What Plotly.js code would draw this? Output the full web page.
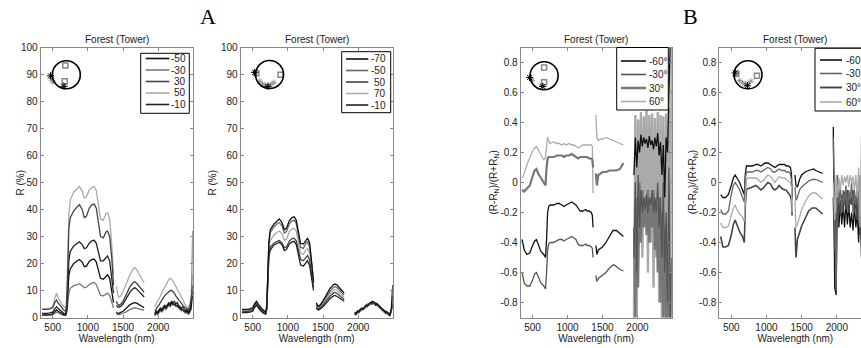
<!DOCTYPE html>
<html><head><meta charset="utf-8">
<script src="https://cdn.plot.ly/plotly-3.0.1.min.js"></script>
<style>html,body{margin:0;padding:0;overflow:hidden;background:#fff;width:861px;height:348px}#plot{width:880px;height:348px}</style>
</head><body><div id="plot"></div><script>
// ---------- wavelength grids (nm) ----------
const WL_VNIR = [350,380,420,460,500,530,555,580,620,660,685,700,715,730,750,800,850,880,920,950,980,1020,1060,1090,1120,1150,1180,1220,1260,1280,1310,1340,1355,1365];
const WL_SWIR1 = [1405,1420,1440,1470,1500,1550,1600,1650,1670,1700,1750,1800];
const WL_SWIR2 = [1950,1970,1990,2010,2030,2050,2070,2090,2110,2130,2150,2170,2190,2210,2230,2250,2270,2290,2310,2330,2350,2370,2390,2410,2430,2450,2470,2490];
const X_TICKS = [500,1000,1500,2000];

// ---------- Panel A-left: reflectance R (%) ----------
const A1_LABELS = ['-50','-30','30','50','-10'];
const A1_50_V = [3.2,3.1,3.2,3.4,4.0,7.0,9.0,7.2,5.2,4.0,3.5,7,22,38,43.5,46.5,47.8,48.5,46.8,44.2,44.8,47.2,48.2,48.5,47.0,41.0,36.5,36.0,38.5,38.8,36.5,27,20,16];
const A1_30_V = [3.0,2.9,3.0,3.2,3.6,5.5,6.5,5.3,3.8,2.7,2.3,5,18,33,37,39.5,41,41.8,40,37,37.5,40.5,41.8,42,40.5,35,30,29.5,31.8,32,30,22,15,12];
const A1_M10_V = [1.5,1.4,1.5,1.7,2.0,3.2,4.0,3.3,2.3,1.5,1.3,3,12,21,24.5,26.5,27.5,28,27,25.5,25.8,27.5,28.5,28.6,27.5,24,21,21,22.5,22.8,21,15,11,9];
const A1_M50_V = [1.0,0.9,1.0,1.1,1.3,2.2,2.8,2.3,1.5,1.0,0.9,2.5,9,15.5,18,20,21,21.5,20.5,18.8,19,20.8,21.5,21.6,20.5,17,14.5,14.2,15.5,15.8,14.5,10,7,5.5];
const A1_M30_V = [0.8,0.7,0.8,0.9,1.0,1.6,2.0,1.7,1.1,0.8,0.7,2,5.5,9,10.8,11.8,12.2,12.5,11.8,11,11.2,12.2,12.8,13,12.2,10,8.2,8,8.8,9,8.2,5.5,4.5,3.5];
const A1_50_S1 = [11.5,9,7.5,8,9.5,12.5,16,18.2,18.4,17.5,15,12.8];
const A1_30_S1 = [6,5,4.5,5,6,8.5,11.5,13,13.2,12.5,11,9.3];
const A1_M10_S1 = [4.5,4,3.8,4.2,5,7,9.5,10.8,11,10.4,9,7.6];
const A1_M50_S1 = [2,1.6,1.5,1.8,2.3,3.5,4.8,5.4,5.5,5.2,4.4,3.6];
const A1_M30_S1 = [1.3,1.1,1,1.2,1.5,2.2,3,3.5,3.6,3.4,3,2.6];
const A1_50_S2 = [4,5,6,7,8,9,10.5,11.5,12.5,13.5,14,14.5,14.2,13.5,12.5,11,10,9,8,7,6,5,4.5,4,3.5,5,8,16];
const A1_30_S2 = [2.5,3,4,4.5,5.5,6.5,7.5,8,8.5,9,9.5,10,10,9.5,9,8,7,6.5,6,5,4.5,4,3.5,3,2.8,4,7,12];
const A1_M10_S2 = [1.5,2.5,2,3,3.5,3,4,4.5,4,5,5.5,5,6,5.5,6,5,5.5,4.5,4,3.5,4,3,2.5,3,2,3,6,10];
const A1_M50_S2 = [1,2,1.5,2.5,3,2.5,3.5,4,3.5,4.5,5,4.5,5.5,5,5,4.5,4.5,4,3.5,3,3,2.5,2,2.5,1.5,2.5,4,8];
const A1_M30_S2 = [0.5,1.5,1,2,2.5,2,3,3.5,3,4,4.5,4,5,4.5,4.8,4,4,3.5,3,2.5,2.5,2,1.5,2,1,2,3,32];

// ---------- Panel A-right: reflectance R (%) ----------
const A2_LABELS = ['-70','-50','50','70','-10'];
const A2_M70_V = [3.0,2.9,3.0,3.2,3.6,5.2,6.0,5.0,3.5,2.5,2.0,4,15,28,32.5,34.5,35.8,36.5,35,32.5,33,35.8,37,37.3,36,31,27.5,27.2,29,29.4,27.5,21,16,13];
const A2_M50_V = [2.8,2.7,2.8,3.0,3.4,5.0,5.8,4.8,3.3,2.3,1.9,3.8,14,27,31.5,33.5,34.8,35.2,33.8,31.2,31.8,34.6,35.8,36,34.8,29.8,26,25.6,27.6,28,26,20,15,12.5];
const A2_70_V = [2.4,2.3,2.4,2.6,3.0,4.5,5.3,4.3,2.9,2.0,1.6,3.4,12.5,25,28.5,30.5,31.6,32,30.8,28.6,29,31.7,32.8,33,32,27.4,23.8,23.4,25.2,25.5,23.8,18,14,11.5];
const A2_50_V = [2.2,2.1,2.2,2.4,2.7,4.2,5.0,4.0,2.6,1.8,1.5,3.2,11.5,23,26,27.5,28.2,28.5,27.5,25.8,26.2,28.2,29.2,29.4,28.4,24.5,21.5,21,22.6,23,21.2,16,13,11];
const A2_M10_V = [1.8,1.7,1.8,2.0,2.3,3.8,4.6,3.6,2.3,1.5,1.2,3,11,22.5,25,26.8,27.5,27.8,26.8,24.8,25.2,27.2,28,28.2,27,23,19.5,19,20.6,21,19.2,14.5,12,10];
const A2_M70_S1 = [5.5,4.5,4.2,5,6.2,8.5,10.8,12.2,12.4,12,10.5,9];
const A2_M50_S1 = [5,4.2,4,4.6,5.8,7.8,9.8,11.2,11.4,11,9.8,8.3];
const A2_70_S1 = [4.5,3.8,3.5,4.1,5.1,7,8.9,10.1,10.3,9.9,8.8,7.5];
const A2_50_S1 = [4,3.4,3.2,3.7,4.6,6.3,8,9.1,9.3,8.9,7.9,6.7];
const A2_M10_S1 = [3.5,3,2.8,3.3,4,5.5,7,8,8.2,7.8,7,6];
const A2_M70_S2 = [2,1.5,2.5,2,3,3.5,3,4,4.5,4.5,5,5.5,5.5,6,5.5,5,5,4.5,4,3.5,3,2.5,2,2,1.5,1,3,12];
const A2_M50_S2 = [1.5,2,1.5,2.5,2.5,3,3.5,3.5,4,5,4.5,5,6,5.5,5,5.5,4.5,4,4,3,3,2,2.5,1.5,1,1.5,2,8];
const A2_70_S2 = [1,1.5,2,2,3,2.5,3.5,4,4,4.5,5,5,5.5,5.5,5.5,4.5,4.5,4,3.5,3.5,2.5,2.5,2,2,1.5,1,2,6];
const A2_50_S2 = [1.5,1,2,2.5,2.5,3,3,4,4.5,4,5,5.5,5,6,5,5,4.5,4.5,3.5,3,3,2,2,1.5,1,1.5,2.5,5];
const A2_M10_S2 = [1,1.5,1.5,2,3,3,3.5,3.5,4,4.5,4.5,5,5.5,5,5.5,4.5,5,4,4,3,2.5,2.5,1.5,2,1.5,0.5,3,4];

// ---------- Panel B-left: (R-RN)/(R+RN) ----------
const B_LABELS = ['-60°','-30°','30°','60°'];
const B1_M60_V = [-0.38,-0.45,-0.48,-0.47,-0.42,-0.39,-0.38,-0.41,-0.46,-0.48,-0.5,-0.38,-0.2,-0.16,-0.15,-0.15,-0.14,-0.14,-0.15,-0.16,-0.15,-0.14,-0.13,-0.14,-0.15,-0.17,-0.19,-0.19,-0.18,-0.19,-0.19,-0.2,-0.22,-0.3];
const B1_M30_V = [-0.6,-0.67,-0.69,-0.69,-0.65,-0.61,-0.6,-0.63,-0.67,-0.69,-0.71,-0.6,-0.45,-0.41,-0.40,-0.40,-0.39,-0.38,-0.38,-0.39,-0.38,-0.37,-0.36,-0.37,-0.38,-0.41,-0.42,-0.42,-0.41,-0.42,-0.42,-0.43,-0.44,-0.5];
const B1_30_V = [-0.05,-0.06,-0.04,-0.02,0.04,0.08,0.09,0.06,0.03,0.0,-0.02,0.10,0.16,0.17,0.17,0.17,0.18,0.18,0.18,0.17,0.18,0.18,0.19,0.18,0.17,0.16,0.17,0.17,0.17,0.17,0.16,0.16,0.15,0.1];
const B1_60_V = [0.03,0.06,0.12,0.17,0.21,0.23,0.24,0.22,0.18,0.15,0.17,0.27,0.30,0.28,0.26,0.27,0.26,0.26,0.25,0.26,0.25,0.26,0.25,0.25,0.24,0.23,0.24,0.25,0.25,0.25,0.25,0.25,0.24,-0.07];
const B1_M60_S1 = [-0.42,-0.48,-0.45,-0.44,-0.43,-0.40,-0.36,-0.32,-0.32,-0.32,-0.34,-0.36];
const B1_M30_S1 = [-0.62,-0.66,-0.64,-0.63,-0.62,-0.6,-0.57,-0.55,-0.55,-0.56,-0.58,-0.59];
const B1_30_S1 = [0.06,-0.02,0.05,0.06,0.07,0.07,0.08,0.08,0.08,0.08,0.09,0.13];
const B1_60_S1 = [0.45,0.3,0.28,0.29,0.29,0.30,0.29,0.28,0.28,0.27,0.26,0.25];
const B1_M60_S2 = [0.05,0.3,0.1,0.28,0.2,0.32,0.24,0.3,0.26,0.29,0.23,0.31,0.25,0.28,0.22,0.3,0.24,0.33,0.18,0.27,0.05,0.25,-0.1,0.3,0.2,0.6,0.95,0.95];
const B1_M30_S2 = [-0.5,0.0,-0.6,0.05,-0.3,-0.05,-0.2,-0.1,-0.18,-0.08,-0.2,-0.1,-0.15,-0.05,-0.2,-0.1,-0.2,0.0,-0.3,-0.1,-0.5,0.0,-0.6,-0.2,-0.8,0.1,-0.9,-0.5];
const B1_30_S2 = [-0.3,-0.9,-0.1,-0.7,0.0,-0.4,-0.05,-0.3,-0.1,-0.35,-0.05,-0.4,-0.1,-0.3,-0.05,-0.45,-0.15,-0.6,-0.1,-0.8,-0.2,-0.9,-0.3,-0.95,-0.5,-0.95,-0.6,-0.95];
const B1_60_S2 = [-0.95,0.45,-0.9,0.42,-0.3,0.47,-0.5,0.44,-0.2,0.48,-0.6,0.45,-0.4,0.46,-0.7,0.43,-0.5,0.47,-0.8,0.45,-0.95,0.44,-0.95,0.46,-0.95,0.5,-0.95,0.9];

// ---------- Panel B-right: (R-RN)/(R+RN) ----------
const B2_M60_V = [-0.08,-0.10,-0.10,-0.08,-0.02,0.03,0.05,0.03,0.0,-0.05,-0.08,0.06,0.11,0.11,0.11,0.11,0.12,0.12,0.11,0.12,0.13,0.13,0.12,0.11,0.10,0.11,0.12,0.12,0.12,0.11,0.11,0.10,0.06,-0.1];
const B2_M30_V = [-0.18,-0.21,-0.21,-0.19,-0.08,-0.02,0.0,-0.02,-0.05,-0.1,-0.13,0.03,0.07,0.07,0.07,0.07,0.08,0.08,0.07,0.08,0.09,0.10,0.09,0.07,0.07,0.08,0.09,0.08,0.08,0.07,0.07,0.06,0.02,-0.12];
const B2_30_V = [-0.36,-0.43,-0.43,-0.42,-0.35,-0.28,-0.25,-0.28,-0.33,-0.36,-0.40,-0.15,-0.05,-0.04,-0.04,-0.03,-0.02,-0.03,-0.05,-0.04,-0.02,0.0,-0.01,-0.04,-0.05,-0.04,-0.02,-0.04,-0.05,-0.05,-0.07,-0.09,-0.12,-0.22];
const B2_60_V = [-0.27,-0.30,-0.30,-0.29,-0.22,-0.17,-0.15,-0.18,-0.21,-0.23,-0.26,-0.05,0.02,0.03,0.03,0.03,0.03,0.02,0.0,0.01,0.03,0.05,0.04,0.02,0.0,0.02,0.04,0.03,0.03,0.02,0.01,0.0,-0.03,-0.2];
const B2_M60_S1 = [0.05,-0.02,-0.03,0.02,0.05,0.07,0.08,0.09,0.09,0.08,0.07,0.06];
const B2_M30_S1 = [-0.03,-0.12,-0.1,-0.05,-0.03,-0.01,0.01,0.02,0.02,0.02,0.01,0.0];
const B2_30_S1 = [-0.3,-0.5,-0.38,-0.33,-0.29,-0.24,-0.19,-0.17,-0.17,-0.17,-0.19,-0.21];
const B2_60_S1 = [-0.12,-0.3,-0.28,-0.22,-0.18,-0.13,-0.09,-0.07,-0.07,-0.07,-0.09,-0.11];
const B2_M60_S2 = [0.37,-0.7,-0.75,0.0,-0.3,-0.12,-0.28,-0.15,-0.3,-0.12,-0.28,-0.15,-0.3,-0.2,-0.32,-0.15,-0.3,-0.2,-0.4,-0.1,-0.5,-0.2,-0.6,0.0,-0.7,0.2,-0.8,0.3];
const B2_M30_S2 = [0.3,-0.2,-0.72,0.05,-0.15,-0.02,-0.2,-0.05,-0.15,-0.02,-0.18,-0.05,-0.12,0.0,-0.2,-0.05,-0.15,-0.02,-0.25,0.05,-0.3,0.1,-0.4,0.1,-0.5,0.2,-0.6,0.3];
const B2_30_S2 = [-0.1,-0.45,-0.2,-0.3,-0.1,-0.22,-0.08,-0.2,-0.06,-0.18,-0.05,-0.2,-0.08,-0.15,-0.05,-0.2,-0.1,-0.25,-0.05,-0.35,-0.1,-0.4,-0.2,-0.5,-0.1,-0.6,0.0,-0.7];
const B2_60_S2 = [0.0,-0.25,0.05,-0.1,0.03,-0.05,0.05,-0.02,0.04,0.0,0.05,-0.03,0.05,0.0,0.04,-0.05,0.05,-0.1,0.1,-0.3,0.3,-0.4,0.4,-0.5,0.45,-0.6,0.5,-0.7];

// ---------- inset (viewing-geometry sketch) marks ----------
const INSET_CENTER_X = [694, 740, 665, 738];
const INSET_CENTER_Y = [89.9, 90.0, 0.712, 0.718];
const INSET_SQ_X = [[680,670],[552,896],[665,665],[572,865]];
const INSET_SQ_Y = [[93.3,87.5],[90.5,89.9],[0.767,0.669],[0.725,0.712]];
const INSET_AST_X = [[480,495,505,655],[600,640,680,720,760,800],[480,490,630],[620,660,700,740,780]];
const INSET_AST_Y = [[88.6,87.8,87.2,86.2],[87.5,86.5,86.0,85.8,86.3,87.0],[0.69,0.68,0.65],[0.68,0.665,0.655,0.66,0.675]];
const INSET_DOT_X = [[470,661],[528,717],[458,645],[555,730]];
const INSET_DOT_Y = [[89.5,85.6],[90.8,85.6],[0.700,0.64],[0.73,0.645]];

// ---------- build ----------
const W = 880, H = 348;
const X_ALL = WL_VNIR.concat([1385], WL_SWIR1, [1875], WL_SWIR2);
function joinY(v, s1, s2){ return v.concat([null], s1, [null], s2); }

const panels = [
  {ax:'', labels:A1_LABELS, colors:['#111','#777','#444','#aaa','#222'], widths:[1.3,1.3,1.3,1.3,1.3],
   series:[[A1_M50_V,A1_M50_S1,A1_M50_S2],[A1_M30_V,A1_M30_S1,A1_M30_S2],[A1_30_V,A1_30_S1,A1_30_S2],[A1_50_V,A1_50_S1,A1_50_S2],[A1_M10_V,A1_M10_S1,A1_M10_S2]],
   order:[3,1,4,0,2]},
  {ax:'2', labels:A2_LABELS, colors:['#111','#666','#444','#aaa','#222'], widths:[1.3,1.3,1.3,1.3,1.3],
   series:[[A2_M70_V,A2_M70_S1,A2_M70_S2],[A2_M50_V,A2_M50_S1,A2_M50_S2],[A2_50_V,A2_50_S1,A2_50_S2],[A2_70_V,A2_70_S1,A2_70_S2],[A2_M10_V,A2_M10_S1,A2_M10_S2]],
   order:[3,2,4,1,0]},
  {ax:'3', labels:B_LABELS, colors:['#111','#555','#777','#aaa'], widths:[1.3,1.3,2.2,1.3],
   series:[[B1_M60_V,B1_M60_S1,B1_M60_S2],[B1_M30_V,B1_M30_S1,B1_M30_S2],[B1_30_V,B1_30_S1,B1_30_S2],[B1_60_V,B1_60_S1,B1_60_S2]],
   order:[3,2,1,0]},
  {ax:'4', labels:B_LABELS, colors:['#111','#666','#444','#aaa'], widths:[1.3,1.3,1.6,1.3],
   series:[[B2_M60_V,B2_M60_S1,B2_M60_S2],[B2_M30_V,B2_M30_S1,B2_M30_S2],[B2_30_V,B2_30_S1,B2_30_S2],[B2_60_V,B2_60_S1,B2_60_S2]],
   order:[0,2,1,3]}
];

const traces = [];
panels.forEach((p, pi) => {
  p.order.forEach(i => {
    const s = p.series[i];
    traces.push({type:'scatter', mode:'lines', x:X_ALL, y:joinY(s[0],s[1],s[2]),
      xaxis:'x'+p.ax, yaxis:'y'+p.ax, name:p.labels[i], showlegend:false, connectgaps:false,
      line:{color:p.colors[i], width:p.widths[i]}, hoverinfo:'skip'});
    if (pi === 2 && i === 3) {
      // noisy SWIR2 band of the 60° curve drawn a little heavier so it fills like the original
      traces.push({type:'scatter', mode:'lines', x:WL_SWIR2, y:s[2], xaxis:'x3', yaxis:'y3', showlegend:false,
        line:{color:p.colors[i], width:2.4}, hoverinfo:'skip'});
    }
  });
  traces.push({type:'scatter', mode:'markers', x:INSET_SQ_X[pi], y:INSET_SQ_Y[pi], xaxis:'x'+p.ax, yaxis:'y'+p.ax, showlegend:false,
    marker:{symbol:'square-open', size:5, color:'#888', line:{width:1.5}}, hoverinfo:'skip'});
  traces.push({type:'scatter', mode:'markers', x:INSET_AST_X[pi], y:INSET_AST_Y[pi], xaxis:'x'+p.ax, yaxis:'y'+p.ax, showlegend:false,
    marker:{symbol:'asterisk-open', size:5, color:'#888', line:{width:0.8, color:'#888'}}, hoverinfo:'skip'});
  traces.push({type:'scatter', mode:'markers', x:INSET_DOT_X[pi], y:INSET_DOT_Y[pi], xaxis:'x'+p.ax, yaxis:'y'+p.ax, showlegend:false,
    marker:{symbol:'asterisk-open', size:6, color:'#000', line:{width:1, color:'#000'}}, hoverinfo:'skip'});
});

// panel pixel boxes
const PX = [[40.7,192.7],[240.7,392.7],[520.7,671.7],[719.3,871.3]];
const TOP = 47.5, BOT = 317.5;
const yDom = [1-BOT/H, 1-TOP/H];
const font = {family:'Liberation Sans, Arial, sans-serif', size:10, color:'#222'};

const layout = {width:W, height:H, margin:{l:0,r:0,t:0,b:0}, paper_bgcolor:'#fff', plot_bgcolor:'#fff',
  font:font, showlegend:false, shapes:[], annotations:[]};

function xax(i){
  return {domain:[PX[i][0]/W, PX[i][1]/W], range:[330,2490], tickvals:X_TICKS, ticks:'inside', ticklen:3,
    tickcolor:'#888', showline:true, linecolor:'#888', linewidth:1, mirror:'ticks', showgrid:false, zeroline:false,
    tickfont:font, automargin:false, anchor:'y'+(i?i+1:''),
    title:{text:'Wavelength (nm)', font:font, standoff:1}};
}
function yax(i, kind){
  const base = {domain:yDom, ticks:'inside', ticklen:3, tickcolor:'#888', showline:true, linecolor:'#888', linewidth:1,
    mirror:'ticks', showgrid:false, zeroline:false, tickfont:font, automargin:false, anchor:'x'+(i?i+1:'')};
  if(kind==='R'){
    return Object.assign(base, {range:[0,100], tickvals:[0,10,20,30,40,50,60,70,80,90,100]});
  }
  return Object.assign(base, {range:[-0.9,0.9], tickvals:[-0.8,-0.6,-0.4,-0.2,0,0.2,0.4,0.6,0.8],
    ticktext:['-0.8','-0.6','-0.4','-0.2','0','0.2','0.4','0.6','0.8']});
}
layout.xaxis = xax(0); layout.xaxis2 = xax(1); layout.xaxis3 = xax(2); layout.xaxis4 = xax(3);
layout.yaxis = yax(0,'R'); layout.yaxis2 = yax(1,'R'); layout.yaxis3 = yax(2,'B'); layout.yaxis4 = yax(3,'B');

// y-axis titles (placed as in the original figure)
const YT = [{x:20, t:'R (%)'},{x:212, t:'R (%)'},{x:493, t:'(R-R<sub>N</sub>)/(R+R<sub>N</sub>)'},{x:692.7, t:'(R-R<sub>N</sub>)/(R+R<sub>N</sub>)'}];
YT.forEach(o => layout.annotations.push({text:o.t, xref:'paper', yref:'paper', x:o.x/W, y:1-182.5/H, textangle:-90,
  showarrow:false, font:font, xanchor:'center', yanchor:'middle'}));

// titles and panel letters
PX.forEach(p => layout.annotations.push({text:'Forest (Tower)', xref:'paper', yref:'paper', x:(p[0]+p[1])/2/W, y:1-39.5/H,
  showarrow:false, font:font, xanchor:'center', yanchor:'middle'}));
layout.annotations.push({text:'A', xref:'paper', yref:'paper', x:208/W, y:1-17/H, showarrow:false,
  font:{family:'Liberation Serif, Times New Roman, serif', size:22, color:'#000'}, xanchor:'center', yanchor:'middle'});
layout.annotations.push({text:'B', xref:'paper', yref:'paper', x:690/W, y:1-17/H, showarrow:false,
  font:{family:'Liberation Serif, Times New Roman, serif', size:22, color:'#000'}, xanchor:'center', yanchor:'middle'});

// inset circles
panels.forEach((p, pi) => {
  layout.shapes.push({type:'circle', xref:'x'+p.ax, yref:'y'+p.ax, xsizemode:'pixel', ysizemode:'pixel',
    xanchor:INSET_CENTER_X[pi], yanchor:INSET_CENTER_Y[pi], x0:-14, x1:14, y0:-14, y1:14,
    line:{color:'#000', width:1.6}, layer:'above'});
});

// custom legends (px positions)
const LEG = [
  {box:[140.7,53.3,189.3,113.3], line:[145.7,169.3], ys:[58.5,70,81.5,93,104.5], tx:187.5, anchor:'right'},
  {box:[341.7,51.7,390.7,112.7], line:[346,368.3], ys:[59,70.5,82,93.5,105], tx:387.5, anchor:'right'},
  {box:[616.7,47.5,668.3,110], line:[621,646], ys:[61,74.5,88,101.5], tx:647, anchor:'left'},
  {box:[815,48.3,868,111], line:[820,842], ys:[60,73.5,87.5,102], tx:844, anchor:'left'}
];
LEG.forEach((L, pi) => {
  const p = panels[pi];
  layout.shapes.push({type:'rect', xref:'paper', yref:'paper', x0:L.box[0]/W, x1:L.box[2]/W, y0:1-L.box[3]/H, y1:1-L.box[1]/H,
    line:{color:'#000', width:1}, fillcolor:'#fff', layer:'above'});
  p.labels.forEach((lab, i) => {
    layout.shapes.push({type:'line', xref:'paper', yref:'paper', x0:L.line[0]/W, x1:L.line[1]/W, y0:1-L.ys[i]/H, y1:1-L.ys[i]/H,
      line:{color:p.colors[i], width:p.widths[i]+0.3}, layer:'above'});
    layout.annotations.push({text:lab, xref:'paper', yref:'paper', x:L.tx/W, y:1-L.ys[i]/H, showarrow:false,
      font:font, xanchor:L.anchor, yanchor:'middle'});
  });
});

Plotly.newPlot('plot', traces, layout, {staticPlot:true, displayModeBar:false}).then(gd => {
  // drop empty placeholder text nodes Plotly leaves behind
  gd.querySelectorAll('text').forEach(t => { if (!t.textContent.trim()) t.remove(); });
});
</script></body></html>
